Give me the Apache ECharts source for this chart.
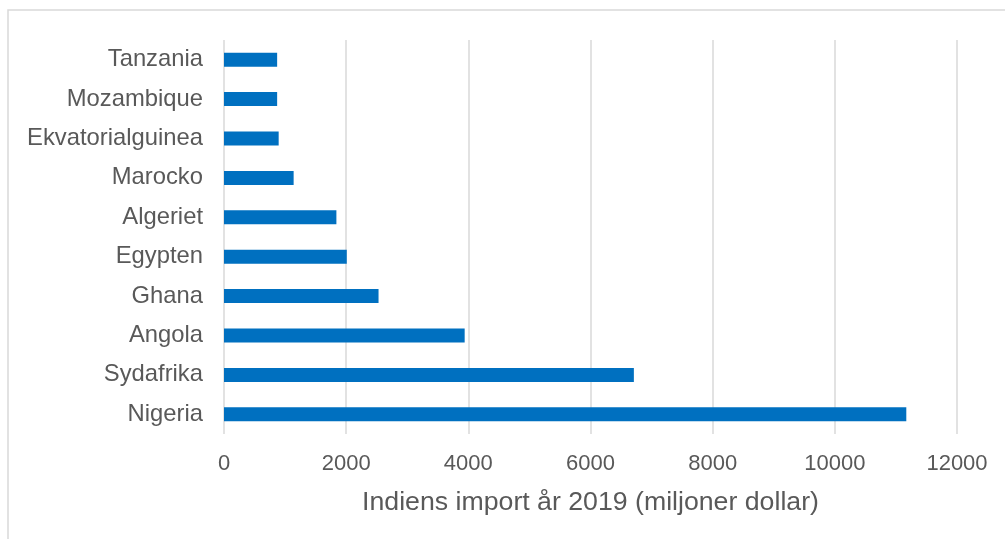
<!DOCTYPE html>
<html>
<head>
<meta charset="utf-8">
<style>
  html, body { margin: 0; padding: 0; background: #ffffff; }
  #chart { width: 1005px; height: 539px; }
</style>
<script src="https://cdn.jsdelivr.net/npm/echarts@6/dist/echarts.min.js"></script>
</head>
<body>
<div id="chart"></div>
<script>
// Countries, listed from the bottom of the axis upwards
const countries = ['Nigeria', 'Sydafrika', 'Angola', 'Ghana', 'Egypten', 'Algeriet', 'Marocko', 'Ekvatorialguinea', 'Mozambique', 'Tanzania'];
// India's imports from each country in 2019, million USD
const importValues = [11170, 6710, 3940, 2530, 2010, 1840, 1140, 895, 870, 870];
const axisTitle = 'Indiens import år 2019 (miljoner dollar)';

const textColor = '#595959';
const lineColor = '#d9d9d9';
const fontFamily = '"Liberation Sans", Arial, sans-serif';

const chart = echarts.init(document.getElementById('chart'), null, { renderer: 'canvas' });

chart.setOption({
  animation: false,
  backgroundColor: '#ffffff',
  graphic: [{
    type: 'rect',
    silent: true,
    z: -10,
    shape: { x: 8, y: 10, width: 1010, height: 545 },
    style: { fill: 'none', stroke: lineColor, lineWidth: 1.5 }
  }],
  grid: { left: 224, right: 48, top: 40, height: 394, containLabel: false },
  xAxis: {
    type: 'value',
    min: 0,
    max: 12000,
    interval: 2000,
    name: axisTitle,
    nameLocation: 'middle',
    nameGap: 55,
    nameTextStyle: { color: textColor, fontSize: 26.7, fontFamily: fontFamily },
    axisLine: { show: false },
    axisTick: { show: false },
    axisLabel: {
      color: textColor, fontSize: 22, fontFamily: fontFamily, margin: 19,
      formatter: function (v) { return String(v); }
    },
    splitLine: { show: true, lineStyle: { color: lineColor, width: 1.5 } }
  },
  yAxis: {
    type: 'category',
    data: countries,
    axisLine: { show: false },
    axisTick: { show: false },
    axisLabel: { color: textColor, fontSize: 23.8, fontFamily: fontFamily, margin: 21 },
    splitLine: { show: false }
  },
  series: [{
    type: 'bar',
    data: importValues,
    barWidth: 14,
    itemStyle: { color: '#0070c0' }
  }]
});
</script>
</body>
</html>
